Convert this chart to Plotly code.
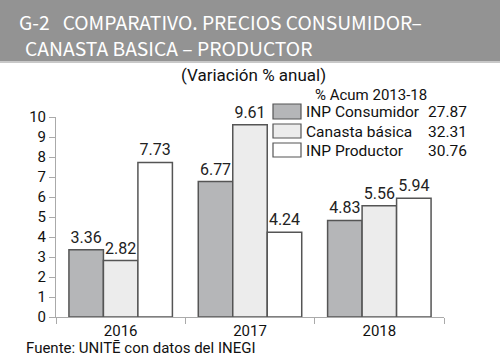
import plotly.graph_objects as go

years = ["2016", "2017", "2018"]
series_names = ["INP Consumidor", "Canasta básica", "INP Productor"]
consumidor = [3.36, 6.77, 4.83]
canasta = [2.82, 9.61, 5.56]
productor = [7.73, 4.24, 5.94]
acum = ["27.87", "32.31", "30.76"]
colors = ["#b5b6b8", "#ececec", "#ffffff"]
y_ticks = [0, 1, 2, 3, 4, 5, 6, 7, 8, 9, 10]

W, H = 500, 360
L, R, T, B = 56, 56, 117, 43
PW, PH = W - L - R, H - T - B

def px(x):
    return (x - L) / PW

def py(y):
    return (H - B - y) / PH

BODY = "Roboto, Liberation Sans, sans-serif"
COND = "Noto Sans CJK SC, Roboto, sans-serif"

fig = go.Figure()
for name, vals, c in zip(series_names, [consumidor, canasta, productor], colors):
    fig.add_trace(go.Bar(
        x=years, y=vals, name=name,
        marker=dict(color=c, line=dict(color="#555555", width=1.5)),
        text=[f"{v:.2f}" for v in vals], textposition="outside",
        textfont=dict(family=BODY, size=16, color="#222222"),
        cliponaxis=False, showlegend=False, hoverinfo="skip",
    ))

shapes = []
annotations = []
# title bar
shapes.append(dict(type="rect", xref="paper", yref="paper",
                   x0=px(0), x1=px(W), y0=py(61), y1=py(0),
                   fillcolor="#939393", line=dict(width=0), layer="below"))
shapes.append(dict(type="rect", xref="paper", yref="paper",
                   x0=px(0), x1=px(W), y0=py(63), y1=py(61),
                   fillcolor="#c8c8c8", line=dict(width=0), layer="below"))
annotations.append(dict(xref="paper", yref="paper", x=px(17), y=py(22),
                        xanchor="left", yanchor="middle", showarrow=False,
                        text="G-2   COMPARATIVO. PRECIOS CONSUMIDOR–",
                        font=dict(family=COND, size=19.3, color="white")))
annotations.append(dict(xref="paper", yref="paper", x=px(23), y=py(48),
                        xanchor="left", yanchor="middle", showarrow=False,
                        text="CANASTA BASICA – PRODUCTOR",
                        font=dict(family=COND, size=19.3, color="white")))
annotations.append(dict(xref="paper", yref="paper", x=px(253), y=py(75),
                        xanchor="center", yanchor="middle", showarrow=False,
                        text="(Variación % anual)",
                        font=dict(family=BODY, size=17, color="#111111")))
# legend
annotations.append(dict(xref="paper", yref="paper", x=px(314), y=py(95),
                        xanchor="left", yanchor="middle", showarrow=False,
                        borderpad=0, text="% Acum 2013-18",
                        font=dict(family=BODY, size=15, color="#111111")))
rows = [(104, 119), (124, 138), (143, 157)]
for (y0, y1), name, c, a in zip(rows, series_names, colors, acum):
    shapes.append(dict(type="rect", xref="paper", yref="paper",
                       x0=px(273), x1=px(301), y0=py(y1), y1=py(y0),
                       fillcolor=c, line=dict(color="#555555", width=1.2)))
    yc = (y0 + y1) / 2 + 0.5
    annotations.append(dict(xref="paper", yref="paper", x=px(305), y=py(yc),
                            xanchor="left", yanchor="middle", showarrow=False,
                            borderpad=0, text=name,
                            font=dict(family=BODY, size=15.5, color="#111111")))
    annotations.append(dict(xref="paper", yref="paper", x=px(468), y=py(yc),
                            xanchor="right", yanchor="middle", showarrow=False,
                            borderpad=0, text=a,
                            font=dict(family=BODY, size=15.5, color="#111111")))
annotations.append(dict(xref="paper", yref="paper", x=px(24), y=py(348),
                        xanchor="left", yanchor="middle", showarrow=False,
                        text="Fuente: UNITĒ con datos del INEGI",
                        font=dict(family=BODY, size=15, color="#111111")))

fig.update_layout(
    width=W, height=H,
    margin=dict(l=L, r=R, t=T, b=B, pad=0),
    paper_bgcolor="white", plot_bgcolor="white",
    barmode="group", bargap=0.2, bargroupgap=0,
    shapes=shapes, annotations=annotations,
    showlegend=False, hovermode=False,
)
fig.update_xaxes(
    type="category", range=[-0.5, 2.5],
    showline=True, linecolor="#aaaaaa", linewidth=1,
    ticks="outside", tickson="boundaries", ticklen=6, tickcolor="#aaaaaa",
    tickfont=dict(family=BODY, size=15, color="#111111"),
    showgrid=False,
)
fig.update_yaxes(
    range=[0, 10], tickvals=y_ticks,
    showline=True, linecolor="#aaaaaa", linewidth=1,
    ticks="outside", ticklen=6, tickcolor="#aaaaaa",
    tickfont=dict(family=BODY, size=15, color="#111111"),
    showgrid=False, zeroline=False,
)

fig.write_html("out.html", config={"displayModeBar": False},
               post_script="document.body.style.margin='0';")
